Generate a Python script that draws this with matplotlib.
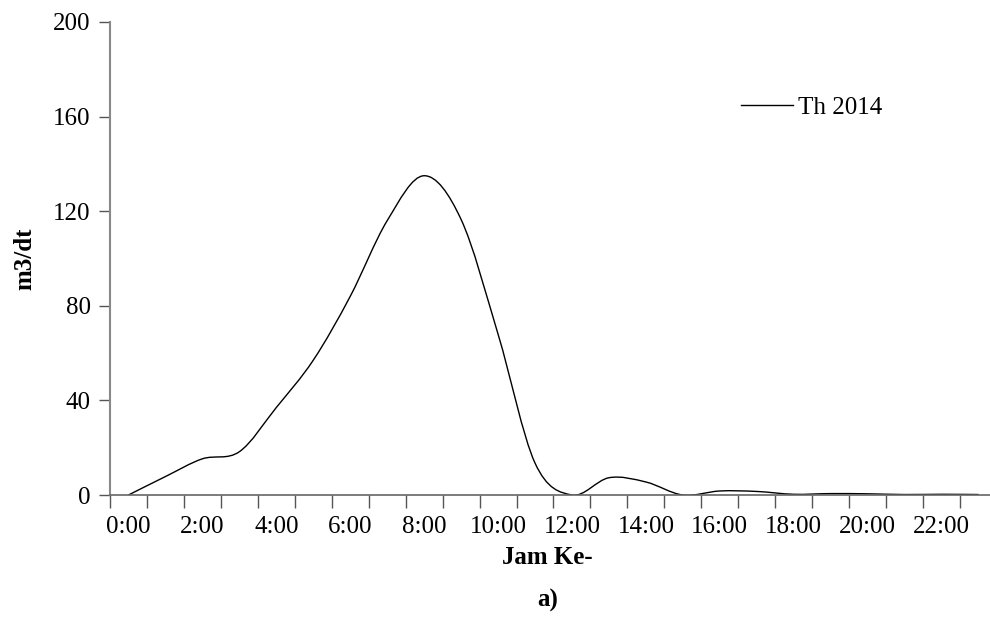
import matplotlib
matplotlib.use("Agg")
import matplotlib.pyplot as plt
import numpy as np
from matplotlib.path import Path
from matplotlib.patches import PathPatch
from matplotlib.lines import Line2D

plt.rcParams["font.family"] = ["Liberation Serif", "DejaVu Serif"]

hours = [f"{h}:00" for h in range(24)]
flow_2014 = [0, 7.8, 15.3, 18.3, 37.0, 57.0, 84.0, 116.0, 135.0, 116.5, 68.0, 13.5,
             0, 7.3, 5.5, 0, 1.7, 1.5, 0.3, 0.6, 0.5, 0.2, 0.3, 0.2]
series_name = "Th 2014"


def smooth_path(x, y):
    """Bezier path through points, like a spreadsheet 'smoothed line'."""
    pts = np.column_stack([x, y]).astype(float)
    n = len(pts)
    verts = [pts[0]]
    codes = [Path.MOVETO]
    for i in range(n - 1):
        p0 = pts[i - 1] if i > 0 else pts[i]
        p1 = pts[i]
        p2 = pts[i + 1]
        p3 = pts[i + 2] if i + 2 < n else pts[i + 1]
        c1 = p1 + (p2 - p0) / 6.0
        c2 = p2 - (p3 - p1) / 6.0
        verts += [c1, c2, p2]
        codes += [Path.CURVE4] * 3
    return Path(verts, codes)


fig = plt.figure(figsize=(9.9, 6.23), dpi=100)
ax = fig.add_axes([110 / 990, 1 - 495 / 623, 887 / 990, 473 / 623])

x = np.arange(len(hours))
ax.add_patch(PathPatch(smooth_path(x, flow_2014), facecolor="none",
                       edgecolor="black", lw=1.0))

ax.set_xlim(-0.5, len(hours) - 0.5)
ax.set_ylim(0, 200)
ax.set_yticks(np.arange(0, 201, 40))
ax.set_xticks(x[::2])
ax.set_xticklabels(hours[::2])
ax.set_xticks(np.arange(-0.5, len(hours), 1), minor=True)
ax.tick_params(axis="x", which="major", length=0, labelsize=18, pad=15)
ax.tick_params(axis="x", which="minor", length=9, width=1, color="#555555")
ax.tick_params(axis="y", length=8, width=1, labelsize=18, pad=6, color="#555555")

for s in ["top", "right"]:
    ax.spines[s].set_visible(False)
ax.spines["left"].set_color("#888888")
ax.spines["left"].set_linewidth(1.5)
ax.spines["bottom"].set_color("#666666")
ax.spines["bottom"].set_linewidth(1.2)

ax.set_ylabel("m3/dt", fontsize=18, fontweight="bold", labelpad=12)
fig.text(547 / 990, 1 - 557 / 623, "Jam Ke-", fontsize=18, fontweight="bold",
         ha="center", va="center")
fig.text(548 / 990, 1 - 600 / 623, "a)", fontsize=18, fontweight="bold",
         ha="center", va="center")

handle = Line2D([], [], color="black", lw=1.0)
ax.legend([handle], [series_name], loc="upper left",
          bbox_to_anchor=(718 / 990, 1 - 74 / 623), bbox_transform=fig.transFigure,
          frameon=False, fontsize=18, handlelength=2.1, handletextpad=0.2)

fig.savefig("out.png", dpi=100)
